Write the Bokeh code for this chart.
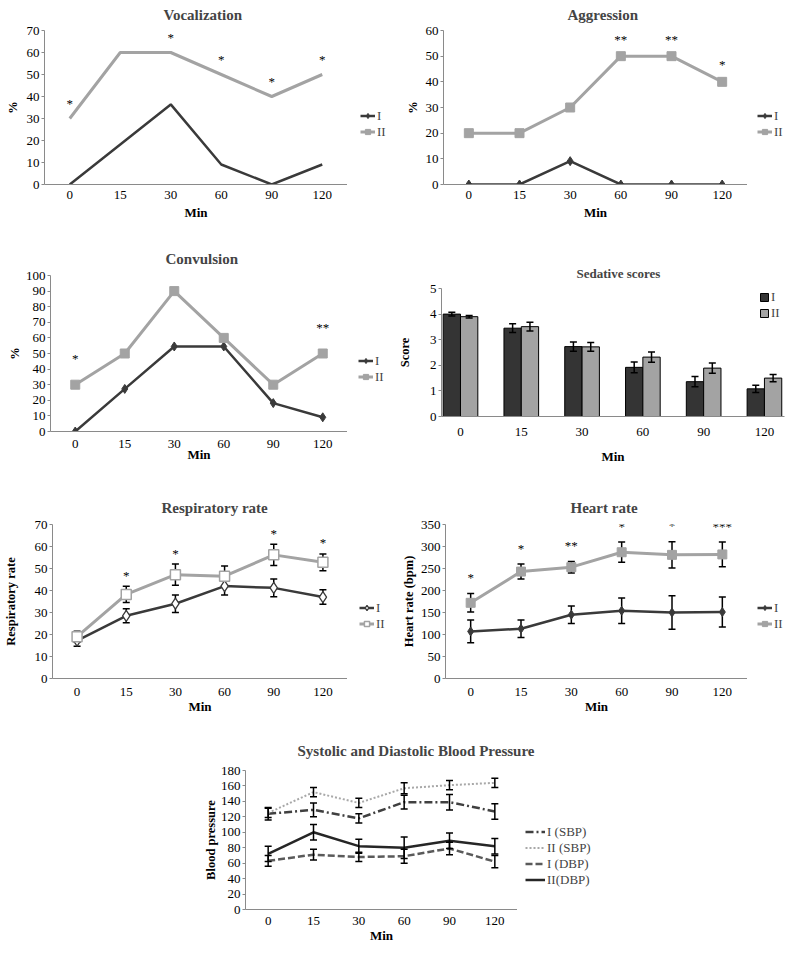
from bokeh.plotting import figure
from bokeh.models import (Range1d, FixedTicker, Legend, LegendItem,
                          Whisker, TeeHead, ColumnDataSource, Spacer)
from bokeh.layouts import column, row
from bokeh.transform import dodge
from bokeh.core.properties import value
from bokeh.embed import file_html
from bokeh.resources import INLINE

# ---------------- data ----------------
minutes = ["0", "15", "30", "60", "90", "120"]
groups = ["I", "II"]

voc_I = [0, 18.2, 36.4, 9.1, 0, 9.1]
voc_II = [30, 60, 60, 50, 40, 50]
voc_sig = ["*", "", "*", "*", "*", "*"]

agg_I = [0, 0, 9.1, 0, 0, 0]
agg_II = [20, 20, 30, 50, 50, 40]
agg_sig = ["", "", "", "**", "**", "*"]

conv_I = [0, 27.3, 54.5, 54.5, 18.2, 9.1]
conv_II = [30, 50, 90, 60, 30, 50]
conv_sig = ["*", "", "", "", "", "**"]

sed_I = [4.0, 3.45, 2.73, 1.92, 1.36, 1.08]
sed_I_err = [0.07, 0.17, 0.18, 0.21, 0.2, 0.14]
sed_II = [3.9, 3.51, 2.72, 2.32, 1.89, 1.5]
sed_II_err = [0.05, 0.17, 0.17, 0.2, 0.2, 0.14]

resp_I = [17.2, 28.5, 34.0, 42.0, 41.2, 37.0]
resp_I_err = [2.5, 3.2, 4.0, 4.0, 4.0, 3.3]
resp_II = [19.0, 38.2, 47.2, 46.5, 56.2, 52.8]
resp_II_err = [2.5, 3.7, 4.8, 4.6, 4.8, 3.8]
resp_sig = ["", "*", "*", "", "*", "*"]

hr_I = [107, 113, 145, 154, 150, 151]
hr_I_err = [26, 20, 20, 29, 38, 34]
hr_II = [172, 243, 253, 287, 281, 282]
hr_II_err = [21, 17, 13, 23, 30, 28]
hr_sig = ["*", "*", "**", "*", "*", "***"]

bp_labels = ["I (SBP)", "II (SBP)", "I (DBP)", "II(DBP)"]
sbp_I = [124, 129, 118, 139, 139, 127]
sbp_I_err = [8, 9, 6, 9, 10, 10]
sbp_II = [125, 152, 138, 157, 161, 164]
sbp_II_err = [6, 6, 6, 7, 6, 6]
dbp_I = [63, 71, 68, 69, 79, 62]
dbp_I_err = [7, 7, 6, 9, 8, 8]
dbp_II = [72, 100, 82, 80, 89, 82]
dbp_II_err = [10, 10, 9, 14, 10, 10]

# category slots on the x scale
idx = list(range(len(minutes)))

# ---------------- style ----------------
FONT = "Liberation Serif"
DARK = "#3a3a3a"
GRAY = "#a3a3a3"
AXIS = "#8a8a8a"
ITEM_H = 16.5
ITEM_SP = -1


def base_fig(origin, size, frame, x_range, y_range):
    fx, fy = origin
    w, h = size
    l, t, r, b = frame
    p = figure(width=w, height=h, x_range=x_range, y_range=y_range,
               output_backend="svg", toolbar_location=None,
               min_border_left=l - fx, min_border_right=fx + w - r,
               min_border_top=t - fy, min_border_bottom=fy + h - b)
    p.outline_line_color = None
    p.xgrid.grid_line_color = None
    p.ygrid.grid_line_color = None
    return p


def set_title(p, title, title_size, title_left, frame_left, title_standoff, valign="bottom"):
    p.title.text = title
    p.title.align = "left"
    p.title.vertical_align = valign
    p.title.text_font = FONT
    p.title.text_font_size = title_size
    p.title.text_font_style = "bold"
    p.title.offset = title_left - frame_left
    p.title.standoff = title_standoff


def style(p, title, title_size, title_left, frame, ylabel, yticks,
          ylab_standoff, xtick_standoff, xlab_standoff, title_standoff, valign="bottom"):
    if title:
        set_title(p, title, title_size, title_left, frame[0], title_standoff, valign)
    for ax in (p.xaxis[0], p.yaxis[0]):
        ax.axis_line_color = AXIS
        ax.major_tick_line_color = AXIS
        ax.minor_tick_line_color = None
        ax.major_label_text_font = FONT
        ax.major_label_text_font_size = "13px"
        ax.major_label_text_color = "black"
        ax.axis_label_text_font = FONT
        ax.axis_label_text_font_style = "bold"
        ax.axis_label_text_color = "black"
    xa = p.xaxis[0]
    xa.ticker = FixedTicker(ticks=idx)
    xa.major_label_overrides = {i: m for i, m in zip(idx, minutes)}
    xa.major_tick_out = 0
    xa.major_tick_in = 0
    xa.major_label_standoff = xtick_standoff
    xa.axis_label = "Min"
    xa.axis_label_text_font_size = "13px"
    xa.axis_label_standoff = xlab_standoff
    ya = p.yaxis[0]
    ya.ticker = FixedTicker(ticks=yticks)
    ya.major_tick_out = 3
    ya.major_tick_in = 0
    ya.major_label_standoff = 2
    ya.axis_label = ylabel
    ya.axis_label_text_font_size = "12.5px"
    ya.axis_label_standoff = ylab_standoff


def make_legend(items, frame_left, frame_bottom, glyph_x, first_center,
                glyph_w=15, glyph_h=13):
    n = len(items)
    vx = glyph_x - frame_left
    vy = frame_bottom - (first_center - ITEM_H / 2 + n * ITEM_H + (n - 1) * ITEM_SP)
    return Legend(items=items, location=(vx, vy),
                  glyph_width=glyph_w, glyph_height=glyph_h, label_height=13,
                  label_standoff=2, spacing=ITEM_SP, padding=0, margin=0,
                  border_line_alpha=0, background_fill_alpha=0,
                  label_text_font=FONT, label_text_font_size="13px")


def legend_fig(origin, size, frame_tb, entries, glyph_x, first_center, glyph_w=15):
    # a borderless plot beside a chart that only carries its legend;
    # its x range lies away from the data so the series themselves stay out of view
    fx, fy = origin
    w, h = size
    t, b = frame_tb
    lf = figure(width=w, height=h, x_range=Range1d(-3, -2), y_range=Range1d(0, 1),
                output_backend="svg", toolbar_location=None,
                x_axis_location=None, y_axis_location=None,
                min_border_left=0, min_border_right=0,
                min_border_top=t - fy, min_border_bottom=fy + h - b)
    lf.outline_line_color = None
    lf.grid.visible = False
    items = []
    for label, vals, line_kw, marker_kw in entries:
        rs = []
        if line_kw is not None:
            rs.append(lf.line(idx, vals, **line_kw))
        if marker_kw is not None:
            rs.append(lf.scatter(idx, vals, **marker_kw))
        items.append(LegendItem(label=label, renderers=rs))
    lf.add_layout(make_legend(items, fx, b, glyph_x, first_center, glyph_w=glyph_w))
    return lf


def stars(p, ys, sig, off):
    src = ColumnDataSource(dict(x=idx, y=ys, s=sig))
    p.text(x="x", y="y", text="s", source=src, y_offset=-off,
           text_align="center", text_baseline="middle",
           text_font=value(FONT), text_font_size="13px", text_color="black")


def whiskers(p, vals, errs, level="underlay", base=None, color="black"):
    src = ColumnDataSource(dict(x=idx if base is None else base,
                                lo=[v - e for v, e in zip(vals, errs)],
                                hi=[v + e for v, e in zip(vals, errs)]))
    w = Whisker(base="x", lower="lo", upper="hi", source=src,
                line_color=color, line_width=1.5, level=level,
                upper_head=TeeHead(size=7, line_color=color, line_width=1.5),
                lower_head=TeeHead(size=7, line_color=color, line_width=1.5))
    p.add_layout(w)


LINE_I = dict(line_color=DARK, line_width=2.5)
LINE_II = dict(line_color=GRAY, line_width=3)
MARK_I = dict(marker="diamond", size=9, fill_color=DARK, line_color=DARK)
MARK_II = dict(marker="square", size=9, fill_color=GRAY, line_color=GRAY)
OPEN_I = dict(marker="diamond", size=11, fill_color="white", line_color=DARK, line_width=1.3)
OPEN_II = dict(marker="square", size=10, fill_color="white", line_color=GRAY, line_width=1.5)


def line_panel(origin, size, frame, ymax, ystep, I, II, title, title_left, ylabel,
               ylab_standoff, xtick_standoff, xlab_standoff, title_standoff,
               mark_I=MARK_I, mark_II=MARK_II, show_markers=True, valign="bottom"):
    p = base_fig(origin, size, frame, Range1d(-0.5, len(minutes) - 0.5), Range1d(0, ymax))
    style(p, title, "15px", title_left, frame, ylabel, list(range(0, ymax + 1, ystep)),
          ylab_standoff, xtick_standoff, xlab_standoff, title_standoff, valign)
    p.line(idx, I, **LINE_I)
    p.line(idx, II, **LINE_II)
    if show_markers:
        p.scatter(idx, I, **mark_I)
        p.scatter(idx, II, **mark_II)
    return p


def pair_entries(I, II, mark_I=MARK_I, mark_II=MARK_II):
    return [(groups[0], I, LINE_I, mark_I), (groups[1], II, LINE_II, mark_II)]


# ---------------- row 1 (y 0..222) ----------------
p1 = line_panel((0, 0), (347, 222), (44, 29, 347, 184), 70, 10, voc_I, voc_II,
                "Vocalization", 163, "%", 4, 6, 3, 12, show_markers=False, valign="top")
stars(p1, voc_II, voc_sig, 15)
l1 = legend_fig((347, 0), (45, 222), (29, 184), pair_entries(voc_I, voc_II), 360, 116)

p2 = line_panel((392, 0), (355, 222), (443, 29, 747, 184), 60, 10, agg_I, agg_II,
                "Aggression", 567, "%", 3, 6, 3, 12, valign="top")
stars(p2, agg_II, agg_sig, 17)
l2 = legend_fig((747, 0), (38, 222), (29, 184), pair_entries(agg_I, agg_II), 757, 116)

# ---------------- row 2 (y 222..481) ----------------
p3 = line_panel((0, 222), (347, 259), (50, 275, 347, 431), 100, 10, conv_I, conv_II,
                "Convulsion", 165, "%", 1, 8, -4, 18)
stars(p3, conv_II, conv_sig, 26)
l3 = legend_fig((347, 222), (45, 259), (275, 431), pair_entries(conv_I, conv_II), 358, 361)

BW = 0.285
sed_frame = (441, 288, 784, 416)
p4 = base_fig((392, 235), (393, 231), sed_frame, Range1d(-0.3125, 5.33), Range1d(0, 5))
style(p4, "Sedative scores", "13px", 576, sed_frame, "Score", [0, 1, 2, 3, 4, 5],
      15, 11, 10, 16)
sed_src = ColumnDataSource(dict(x=idx, I=sed_I, II=sed_II))
bI = p4.vbar(x=dodge("x", -BW / 2), top="I", width=BW, source=sed_src,
             fill_color="#343434", line_color="black", line_width=1)
bII = p4.vbar(x=dodge("x", BW / 2), top="II", width=BW, source=sed_src,
              fill_color="#a3a3a3", line_color="black", line_width=1)
whiskers(p4, sed_I, sed_I_err, level="annotation", base=[i - BW / 2 for i in idx])
whiskers(p4, sed_II, sed_II_err, level="annotation", base=[i + BW / 2 for i in idx])
p4.add_layout(make_legend([LegendItem(label=groups[0], renderers=[bI]),
                           LegendItem(label=groups[1], renderers=[bII])],
                          sed_frame[0], sed_frame[3], 759, 297, glyph_w=10, glyph_h=10))

# ---------------- row 3 (y 481..716) ----------------
p5 = line_panel((0, 481), (347, 235), (41, 524, 347, 680), 70, 10, resp_I, resp_II,
                "Respiratory rate", 150, "Respiratory rate", 14, 9, 0, 18,
                mark_I=OPEN_I, mark_II=OPEN_II)
whiskers(p5, resp_I, resp_I_err)
whiskers(p5, resp_II, resp_II_err)
stars(p5, [v + e for v, e in zip(resp_II, resp_II_err)], resp_sig, 11)
l5 = legend_fig((347, 481), (45, 235), (524, 680),
                pair_entries(resp_I, resp_II, OPEN_I, OPEN_II), 359, 610)

p6 = line_panel((392, 481), (355, 235), (445, 524, 747, 680), 350, 50, hr_I, hr_II,
                "Heart rate", 570, "Heart rate (bpm)", 2, 9, 0, 18)
whiskers(p6, hr_I, hr_I_err)
whiskers(p6, hr_II, hr_II_err)
stars(p6, [v + e for v, e in zip(hr_II, hr_II_err)], hr_sig, 16)
l6 = legend_fig((747, 481), (38, 235), (524, 680), pair_entries(hr_I, hr_II), 757, 610)

# ---------------- row 4 (y 716..945) ----------------
# title strip spanning the full width, so the long title is not cut by the chart's edge
tf = figure(width=785, height=43, x_range=Range1d(0, 1), y_range=Range1d(0, 1),
            output_backend="svg", toolbar_location=None,
            x_axis_location=None, y_axis_location=None,
            min_border_left=245, min_border_right=268, min_border_top=42, min_border_bottom=0)
tf.outline_line_color = None
tf.grid.visible = False
set_title(tf, "Systolic and Diastolic Blood Pressure", "15px", 297, 245, 0)

bp_frame = (245, 770, 517, 911)
p7 = base_fig((0, 759), (517, 186), bp_frame, Range1d(-0.5, len(minutes) - 0.5),
              Range1d(0, 180))
style(p7, None, "15px", 297, bp_frame, "Blood pressure",
      list(range(0, 181, 20)), 0, 7, 0, 0)
bp_series = [sbp_I, sbp_II, dbp_I, dbp_II]
bp_errs = [sbp_I_err, sbp_II_err, dbp_I_err, dbp_II_err]
bp_colors = ["#404040", "#a8a8a8", "#5a5a5a", "#262626"]
bp_dash = ["8 3 2 3", "2 2", "7 3", "solid"]
bp_width = [2.5, 2, 2.5, 2.5]
bp_entries = []
for lab, vals, errs, c, d, w in zip(bp_labels, bp_series, bp_errs, bp_colors, bp_dash, bp_width):
    kw = dict(line_color=c, line_dash=d, line_width=w)
    p7.line(idx, vals, **kw)
    whiskers(p7, vals, errs, level="annotation")
    bp_entries.append((lab, vals, kw, None))
l7 = legend_fig((517, 759), (268, 186), (770, 911), bp_entries, 525, 835, glyph_w=20)

layout = column(row(p1, l1, p2, l2),
                row(p3, l3, column(Spacer(height=13), p4)),
                row(p5, l5, p6, l6),
                column(tf, row(p7, l7)))
open("out.html", "w").write(file_html(layout, INLINE))
